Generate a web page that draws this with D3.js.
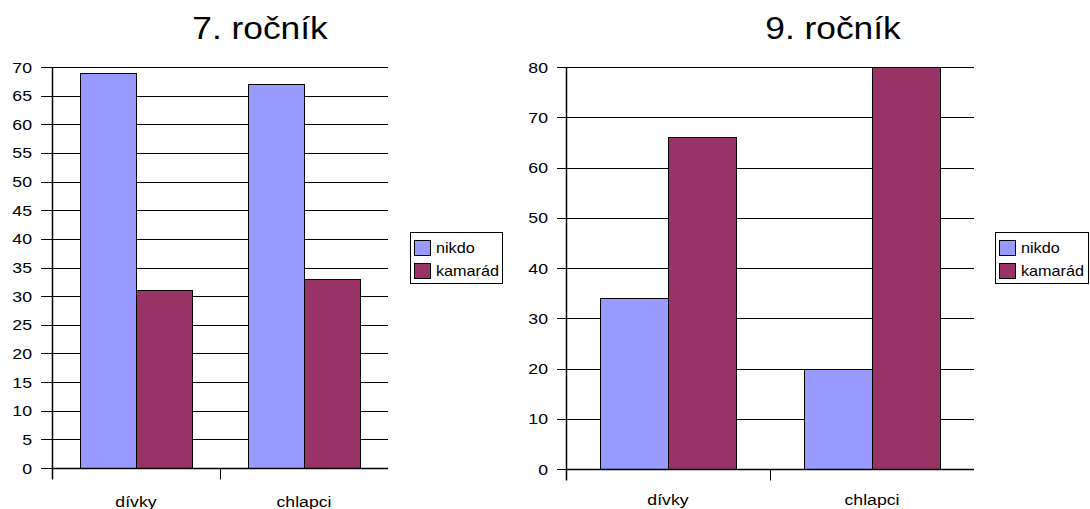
<!DOCTYPE html>
<html>
<head>
<meta charset="utf-8">
<script src="https://cdn.jsdelivr.net/npm/d3@7"></script>
<style>
  html, body { margin: 0; padding: 0; background: #fff; }
  svg { display: block; font-family: "Liberation Sans", Arial, sans-serif; }
</style>
</head>
<body>
<svg id="chart" width="1090" height="509"></svg>
<script>
// Survey answers in percent, by grade and gender
const categories = ["dívky", "chlapci"];
const seriesNames = ["nikdo", "kamarád"];
const seriesColors = ["#9999FF", "#993366"];

const grade7Nikdo = [69, 67];
const grade7Kamarad = [31, 33];
const grade7Ticks = [0, 5, 10, 15, 20, 25, 30, 35, 40, 45, 50, 55, 60, 65, 70];

const grade9Nikdo = [34, 20];
const grade9Kamarad = [66, 80];
const grade9Ticks = [0, 10, 20, 30, 40, 50, 60, 70, 80];

const svg = d3.select("#chart");

// Text drawn with a slight horizontal stretch
function label(g, x, y, str, size, sx, anchor) {
  return g.append("text")
    .attr("transform", `translate(${x},${y}) scale(${sx},1)`)
    .attr("text-anchor", anchor)
    .style("font-size", size + "px")
    .attr("fill", "#000")
    .text(str);
}

function drawChart(cfg) {
  const g = svg.append("g");
  const rows = categories.map((c, i) => ({
    category: c,
    values: [cfg.nikdo[i], cfg.kamarad[i]]
  }));

  const y = d3.scaleLinear()
    .domain([0, d3.max(cfg.ticks)])
    .range([cfg.bottom, cfg.top]);

  const x0 = d3.scaleBand()
    .domain(categories)
    .range([cfg.left, cfg.right])
    .paddingInner(1 / 3)
    .paddingOuter(1 / 6);

  const x1 = d3.scaleBand()
    .domain(seriesNames)
    .range([0, x0.bandwidth()]);

  // Horizontal gridlines with outward ticks
  const yAxis = d3.axisLeft(y)
    .tickValues(cfg.ticks)
    .tickSizeInner(-(cfg.right - cfg.left))
    .tickSizeOuter(0)
    .tickFormat("");
  const grid = g.append("g")
    .attr("transform", `translate(${cfg.left},0)`)
    .call(yAxis);
  grid.select(".domain").remove();
  grid.selectAll(".tick line")
    .attr("x1", -cfg.tickLen)
    .attr("stroke", "#000")
    .attr("shape-rendering", "crispEdges");

  // Y tick labels
  cfg.ticks.forEach(t => {
    label(g, cfg.labelEnd, y(t) + 5.5, String(t), 15, 1.18, "end");
  });

  // Bars
  const groups = g.selectAll(".grp")
    .data(rows)
    .join("g")
    .attr("transform", d => `translate(${x0(d.category)},0)`);
  groups.selectAll("rect")
    .data(d => d.values.map((v, i) => ({ name: seriesNames[i], value: v, color: seriesColors[i] })))
    .join("rect")
    .attr("x", d => x1(d.name) + 0.5)
    .attr("y", d => Math.round(y(d.value)) + 0.5)
    .attr("width", x1.bandwidth())
    .attr("height", d => Math.round(y(0)) - Math.round(y(d.value)))
    .attr("fill", d => d.color)
    .attr("stroke", "#000")
    .attr("stroke-width", 1);

  // Axes lines
  const bx = Math.round(cfg.left) + 0.5;
  const by = Math.round(y(0)) + 0.5;
  g.append("line")
    .attr("x1", bx).attr("x2", bx)
    .attr("y1", Math.round(cfg.top)).attr("y2", by + 11)
    .attr("stroke", "#000").attr("stroke-width", 1.5);
  g.append("line")
    .attr("x1", bx).attr("x2", cfg.right)
    .attr("y1", by).attr("y2", by)
    .attr("stroke", "#000").attr("stroke-width", 1.5);

  // Category separators below the axis
  const mid = Math.round(x0(categories[1]) - x0.step() * x0.paddingInner() / 2) + 0.5;
  g.append("line")
    .attr("x1", mid).attr("x2", mid)
    .attr("y1", by).attr("y2", by + 11)
    .attr("stroke", "#000");

  // Category labels
  categories.forEach(c => {
    label(g, x0(c) + x0.bandwidth() / 2, cfg.catBase, c, 15, 1.18, "middle");
  });

  // Title
  label(g, cfg.titleX, 39, cfg.title, 31, 1.14, "middle");

  // Legend
  const lg = g.append("g");
  lg.append("rect")
    .attr("x", cfg.legX + 0.5).attr("y", 232.5)
    .attr("width", cfg.legW).attr("height", 51)
    .attr("fill", "#fff").attr("stroke", "#000");
  seriesNames.forEach((s, i) => {
    lg.append("rect")
      .attr("x", cfg.legX + 4.5).attr("y", 240.5 + i * 23)
      .attr("width", 16).attr("height", 15)
      .attr("fill", seriesColors[i]).attr("stroke", "#000");
    label(lg, cfg.legX + 26, 252.5 + i * 23.5, s, 15, 1.08, "start");
  });
}

drawChart({
  nikdo: grade7Nikdo, kamarad: grade7Kamarad, ticks: grade7Ticks,
  left: 52, right: 388, top: 67, bottom: 468,
  tickLen: 11, labelEnd: 32, catBase: 507,
  title: "7. ročník", titleX: 260,
  legX: 410, legW: 92
});

drawChart({
  nikdo: grade9Nikdo, kamarad: grade9Kamarad, ticks: grade9Ticks,
  left: 566, right: 974, top: 67, bottom: 469,
  tickLen: 9, labelEnd: 548, catBase: 505,
  title: "9. ročník", titleX: 833,
  legX: 995, legW: 93
});
</script>
</body>
</html>
